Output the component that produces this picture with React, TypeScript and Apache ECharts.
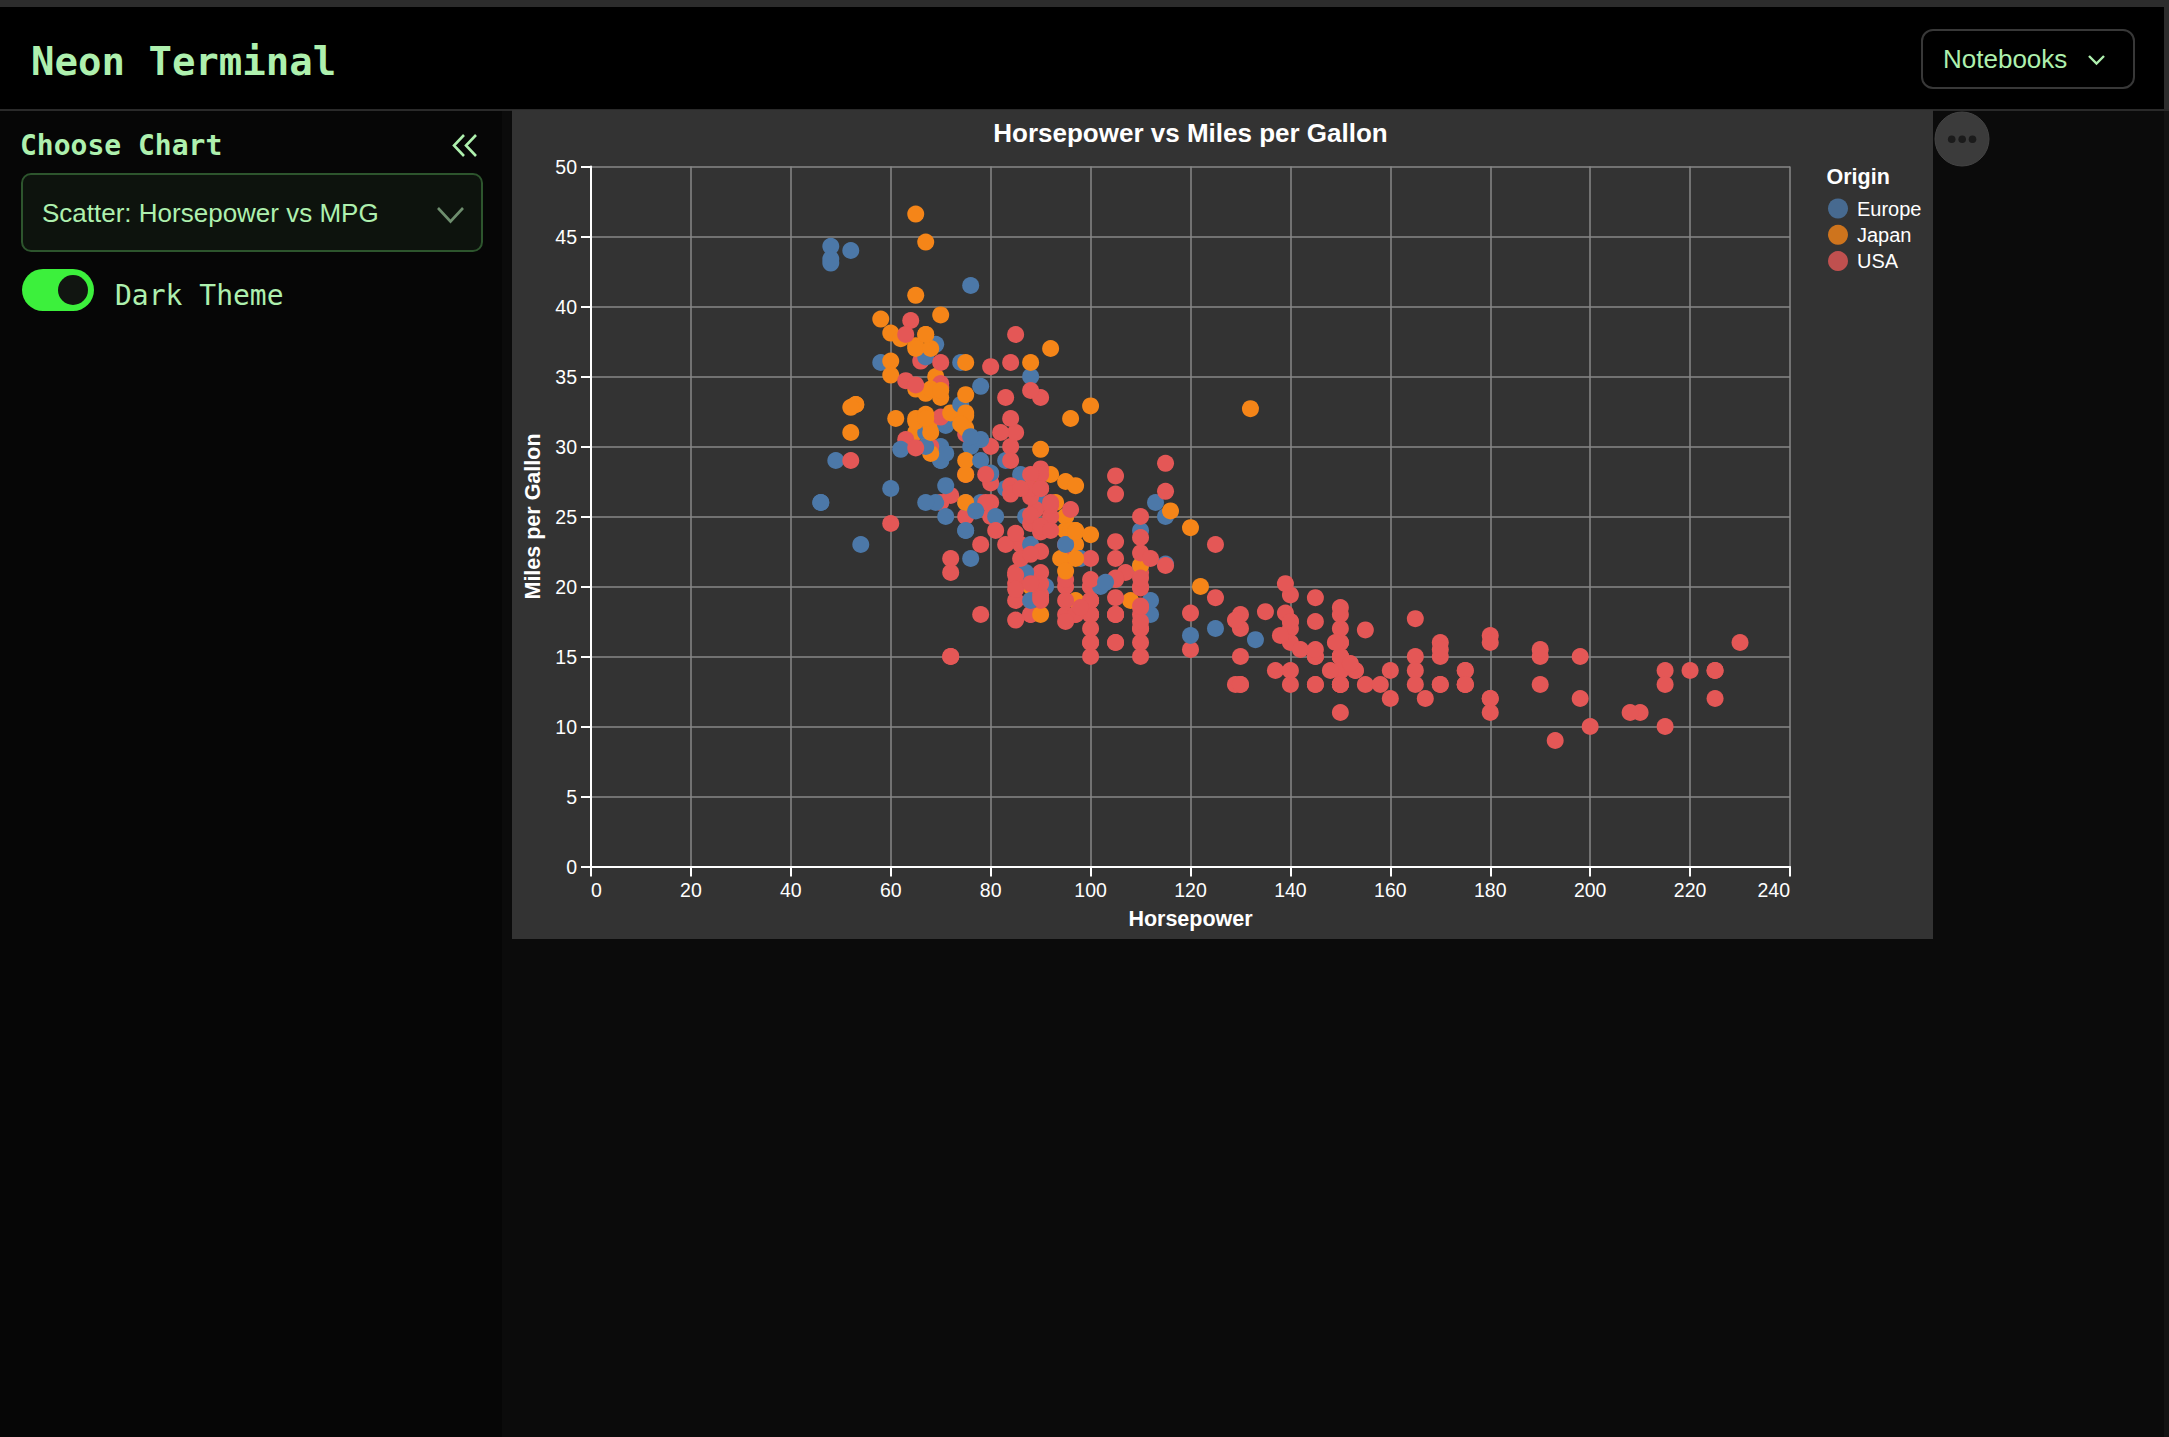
import React, { useEffect, useRef } from "react";
import * as echarts from "echarts";

// ---- Data (auto-mpg / cars dataset, rows with missing horsepower omitted) ----
const horsepower: number[] = [
  130,165,150,150,140,198,220,215,225,190,170,160,150,225,95,95,97,85,88,46,87,90,95,113,90,215,200,210,193,
  88,90,95,100,105,100,88,100,165,175,153,150,180,170,175,110,72,100,88,86,90,70,76,65,69,60,70,
  95,80,54,90,86,165,175,150,153,150,208,155,160,190,97,150,130,140,150,112,76,87,69,86,92,97,80,88,
  175,150,145,137,150,198,150,158,150,215,225,175,105,100,100,88,95,46,150,167,170,180,100,88,72,94,90,85,107,90,145,230,49,75,91,112,150,110,122,180,
  95,100,100,67,80,65,75,100,110,105,140,150,150,140,150,83,67,78,52,61,75,75,75,97,93,67,
  95,105,72,72,170,145,150,148,110,105,110,95,110,110,129,75,83,100,78,96,71,97,97,70,90,95,88,98,115,53,
  86,81,92,79,83,140,150,120,152,100,105,81,90,52,60,70,53,100,78,110,95,71,70,75,72,102,150,88,108,120,180,145,130,150,
  68,80,58,96,70,145,110,145,130,110,105,100,98,180,170,190,149,78,88,75,89,63,83,67,78,97,110,110,
  48,66,52,70,60,110,140,139,105,95,85,88,100,90,105,85,110,120,145,165,139,140,68,95,97,75,95,105,85,97,103,125,115,133,71,68,
  115,85,88,90,110,130,129,138,135,155,142,125,150,71,65,80,80,77,125,71,90,70,70,65,69,90,115,115,90,
  76,60,70,65,90,88,90,90,78,90,75,92,75,65,105,65,48,48,67,67,67,67,62,132,100,88,72,
  84,84,92,110,84,58,64,60,67,65,62,68,63,65,65,74,75,75,100,74,80,76,116,120,110,105,88,85,
  88,88,88,85,84,90,92,74,68,68,63,70,88,75,70,67,67,67,110,85,92,112,96,84,90,86,52,84,79,82,
];

const milesPerGallon: number[] = [
  18,15,18,16,17,15,14,14,14,15,15,14,15,14,24,22,18,21,27,26,25,24,25,26,21,10,10,11,9,
  27,28,25,19,16,17,19,18,14,14,14,14,12,13,13,18,22,19,18,23,28,30,30,31,35,27,26,
  24,25,23,20,21,13,14,15,14,17,11,13,12,13,19,15,13,13,14,18,22,21,26,22,28,23,28,27,
  13,14,13,14,15,12,13,13,14,13,12,13,18,16,18,18,23,26,11,12,13,12,18,20,21,22,18,19,21,26,15,16,29,24,20,19,15,24,20,11,
  20,19,15,31,26,32,25,16,16,18,16,13,14,14,14,29,26,26,31,32,28,24,26,24,26,31,
  19,18,15,15,16,15,16,14,17,16,15,18,21,20,13,29,23,20,23,24,25,24,18,29,19,23,23,22,25,33,
  28,25,25,26,27,17.5,16,15.5,14.5,22,22,24,22.5,29,24.5,29,33,20,18,18.5,17.5,29.5,32,28,26.5,20,13,19,19,16.5,16.5,13,13,13,
  31.5,30,36,25.5,33.5,17.5,17,15.5,15,17.5,20.5,19,18.5,16,15.5,15.5,16,29,24.5,26,25.5,30.5,33.5,30,30.5,22,21.5,21.5,
  43.1,36.1,32.8,39.4,36.1,19.9,19.4,20.2,19.2,20.5,20.2,25.1,20.5,19.4,20.6,20.8,18.6,18.1,19.2,17.7,18.1,17.5,30,27.5,27.2,30.9,21.1,23.2,23.8,23.9,20.3,17,21.6,16.2,31.5,29.5,
  21.5,19.8,22.3,20.2,20.6,17,17.6,16.5,18.2,16.9,15.5,19.2,18.5,31.9,34.1,35.7,27.4,25.4,23,27.2,23.9,34.2,34.5,31.8,37.3,28.4,28.8,26.8,33.5,
  41.5,38.1,32.1,37.2,28,26.4,24.3,19.1,34.3,29.8,31.3,37,32.2,46.6,27.9,40.8,44.3,43.4,36.4,30,44.6,33.8,29.8,32.7,23.7,35,32.4,
  27.2,26.6,25.8,23.5,30,39.1,39,35.1,32.3,37,37.7,34.1,34.7,34.4,29.9,33,33.7,32.4,32.9,31.6,28.1,30.7,25.4,24.2,22.4,26.6,20.2,17.6,
  28,27,34,31,29,27,24,36,37,31,38,36,36,36,34,38,32,38,25,38,26,22,32,36,27,27,44,32,28,31,
];

// E = Europe, J = Japan, U = USA
const origin: string[] = [
  "U","U","U","U","U","U","U","U","U","U","U","U","U","U","J","U","U","U","J","E","E","E","E","E","U","U","U","U","U",
  "J","U","J","U","U","U","U","U","U","U","U","U","U","U","U","U","U","U","U","U","E","E","E","J","J","E","U",
  "J","U","E","U","U","U","U","U","U","U","U","U","U","U","J","U","U","U","U","E","E","E","E","U","J","J","U","J",
  "U","U","U","U","U","U","U","U","U","U","U","U","U","U","U","U","U","E","U","U","U","U","U","J","U","J","J","U","U","E","U","U","E","E","E","E","U","E","J","U",
  "U","U","U","J","U","J","U","U","U","U","U","U","U","U","U","E","E","E","J","J","U","E","E","J","J","E",
  "U","U","U","U","U","U","U","U","U","U","U","U","U","U","U","J","U","U","U","J","E","J","U","E","U","E","E","E","E","J",
  "E","E","U","U","E","U","U","U","U","U","U","U","U","U","U","E","J","U","U","U","U","E","J","J","U","E","U","E","J","E","U","U","U","U",
  "J","U","E","U","J","U","U","U","U","U","U","U","U","U","U","U","U","E","U","J","U","U","U","J","E","J","E","J",
  "E","U","J","J","J","U","U","U","U","U","U","U","U","U","U","U","U","U","U","U","U","U","U","J","J","U","J","U","U","J","E","E","E","E","E","J",
  "U","U","U","U","U","U","U","U","U","U","U","U","U","E","J","U","U","E","U","E","U","U","U","J","E","U","U","U","U",
  "E","J","U","J","U","U","U","U","E","J","J","J","J","J","U","J","E","E","E","E","J","J","E","J","J","E","J",
  "U","U","U","U","U","J","U","J","J","J","J","J","U","U","U","E","J","J","J","J","E","E","J","J","U","U","U","U",
  "U","U","U","U","U","U","U","E","J","J","U","U","J","J","J","J","J","J","U","U","U","U","J","U","U","U","E","U","U","U",
];

const originCodes = ["E", "J", "U"];
const originNames = ["Europe", "Japan", "USA"];
const originColors = ["#4c78a8", "#f58518", "#e45756"];

const chartTitle = "Horsepower vs Miles per Gallon";
const xTitle = "Horsepower";
const yTitle = "Miles per Gallon";
const legendTitle = "Origin";
const xMin = 0, xMax = 240, xStep = 20;
const yMin = 0, yMax = 50, yStep = 5;

const SANS = "'Liberation Sans', Arial, Helvetica, sans-serif";
const MONO = "'DejaVu Sans Mono', 'Liberation Mono', monospace";
const GREEN_TEXT = "#aef0ae";

function ScatterChart() {
  const ref = useRef<HTMLDivElement>(null);
  useEffect(() => {
    if (!ref.current) return;
    const chart = echarts.init(ref.current, null, { renderer: "svg" });
    const colorOf = (code: string) => originColors[originCodes.indexOf(code)];
    const points = horsepower.map((h, i) => ({
      value: [h, milesPerGallon[i]],
      itemStyle: { color: colorOf(origin[i]) },
    }));
    const legendSeries = originNames.map((name, i) => ({
      type: "scatter",
      name,
      data: [] as number[][],
      symbol: "circle",
      itemStyle: { color: originColors[i] },
    }));
    chart.setOption({
      animation: false,
      backgroundColor: "#333333",
      textStyle: { fontFamily: SANS },
      grid: { left: 79, top: 56.5, width: 1199, height: 700, containLabel: false },
      graphic: [
        {
          type: "text",
          x: 678.5,
          y: 9.5,
          style: {
            text: chartTitle,
            fill: "#ffffff",
            fontFamily: SANS,
            fontSize: 26,
            fontWeight: "bold",
            align: "center",
            verticalAlign: "top",
          },
        },
        {
          type: "text",
          x: 1314.5,
          y: 55.5,
          style: {
            text: legendTitle,
            fill: "#ffffff",
            fontFamily: SANS,
            fontSize: 21.5,
            fontWeight: "bold",
            align: "left",
            verticalAlign: "top",
          },
        },
      ],
      legend: {
        data: originNames,
        orient: "vertical",
        left: 1316,
        top: 88.5,
        padding: 0,
        itemWidth: 28,
        itemHeight: 20,
        itemGap: 6.3,
        icon: "circle",
        selectedMode: false,
        textStyle: { color: "#ffffff", fontSize: 20, fontFamily: SANS },
      },
      xAxis: {
        type: "value",
        min: xMin,
        max: xMax,
        interval: xStep,
        name: xTitle,
        nameLocation: "middle",
        nameGap: 41.5,
        nameTextStyle: { color: "#ffffff", fontWeight: "bold", fontSize: 21.5, fontFamily: SANS },
        axisLine: { show: true, onZero: false, lineStyle: { color: "#ffffff", width: 2 } },
        axisTick: { show: true, length: 10, lineStyle: { color: "#ffffff", width: 2 } },
        axisLabel: {
          color: "#ffffff",
          fontSize: 19.5,
          margin: 13,
          fontFamily: SANS,
          alignMinLabel: "left",
          alignMaxLabel: "right",
        },
        splitLine: { show: true, lineStyle: { color: "#888888", width: 1.5 } },
      },
      yAxis: {
        type: "value",
        min: yMin,
        max: yMax,
        interval: yStep,
        name: yTitle,
        nameLocation: "middle",
        nameGap: 42,
        nameTextStyle: { color: "#ffffff", fontWeight: "bold", fontSize: 21.5, fontFamily: SANS },
        axisLine: { show: true, onZero: false, lineStyle: { color: "#ffffff", width: 2 } },
        axisTick: { show: true, length: 10, lineStyle: { color: "#ffffff", width: 2 } },
        axisLabel: { color: "#ffffff", fontSize: 19.5, margin: 14, fontFamily: SANS },
        splitLine: { show: true, lineStyle: { color: "#888888", width: 1.5 } },
      },
      series: [
        ...legendSeries,
        {
          type: "scatter",
          name: "cars",
          data: points,
          symbol: "circle",
          symbolSize: 17,
          itemStyle: { opacity: 1 },
          silent: true,
          z: 3,
        },
      ],
    });
    return () => chart.dispose();
  }, []);
  return (
    <div
      ref={ref}
      style={{ position: "absolute", left: 512, top: 110, width: 1421, height: 829 }}
    />
  );
}

export default function App() {
  useEffect(() => {
    document.body.style.margin = "0";
    document.body.style.background = "#0b0b0b";
  }, []);
  return (
    <div
      style={{
        position: "fixed",
        left: 0,
        top: 0,
        width: 2169,
        height: 1437,
        background: "#0b0b0b",
        overflow: "hidden",
      }}
    >
      {/* top strip */}
      <div style={{ position: "absolute", left: 0, top: 0, width: 2169, height: 7, background: "#2c2c2c" }} />
      {/* header */}
      <div style={{ position: "absolute", left: 0, top: 7, width: 2164, height: 102, background: "#000000" }} />
      <div style={{ position: "absolute", left: 0, top: 109, width: 2169, height: 2, background: "#2a2a2a" }} />
      <div style={{ position: "absolute", left: 2164, top: 7, width: 5, height: 102, background: "#2c2c2c" }} />
      {/* sidebar */}
      <div style={{ position: "absolute", left: 0, top: 111, width: 502, height: 1326, background: "#060606" }} />
      <div style={{ position: "absolute", left: 2164, top: 111, width: 5, height: 1326, background: "#131313" }} />

      <div
        style={{
          position: "absolute",
          left: 31,
          top: 42,
          fontFamily: MONO,
          fontWeight: "bold",
          fontSize: 39,
          lineHeight: "39px",
          color: GREEN_TEXT,
          whiteSpace: "nowrap",
        }}
      >
        Neon Terminal
      </div>

      {/* Notebooks button */}
      <div
        style={{
          position: "absolute",
          left: 1921,
          top: 29,
          width: 214,
          height: 60,
          boxSizing: "border-box",
          border: "2px solid #383838",
          borderRadius: 12,
          background: "#000",
        }}
      />
      <div
        style={{
          position: "absolute",
          left: 1943,
          top: 46,
          fontFamily: SANS,
          fontSize: 26,
          lineHeight: "26px",
          color: GREEN_TEXT,
          whiteSpace: "nowrap",
        }}
      >
        Notebooks
      </div>

      {/* Sidebar content */}
      <div
        style={{
          position: "absolute",
          left: 20,
          top: 131.5,
          fontFamily: MONO,
          fontWeight: "bold",
          fontSize: 28,
          lineHeight: "28px",
          color: GREEN_TEXT,
          whiteSpace: "nowrap",
        }}
      >
        Choose Chart
      </div>
      <div
        style={{
          position: "absolute",
          left: 21,
          top: 173,
          width: 462,
          height: 79,
          boxSizing: "border-box",
          border: "2px solid #2d552d",
          borderRadius: 10,
          background: "#0d130d",
        }}
      />
      <div
        style={{
          position: "absolute",
          left: 42,
          top: 200,
          fontFamily: SANS,
          fontSize: 26,
          lineHeight: "26px",
          color: GREEN_TEXT,
          whiteSpace: "nowrap",
        }}
      >
        Scatter: Horsepower vs MPG
      </div>
      <div
        style={{
          position: "absolute",
          left: 115,
          top: 281.5,
          fontFamily: MONO,
          fontSize: 28,
          lineHeight: "28px",
          color: GREEN_TEXT,
          whiteSpace: "nowrap",
        }}
      >
        Dark Theme
      </div>

      <ScatterChart />

      {/* vector bits */}
      <svg
        width={2169}
        height={1437}
        style={{ position: "absolute", left: 0, top: 0, pointerEvents: "none" }}
      >
        {/* collapse icon */}
        <polyline points="464,135 454,145.5 464,156" fill="none" stroke={GREEN_TEXT} strokeWidth={2.6} />
        <polyline points="476,135 466,145.5 476,156" fill="none" stroke={GREEN_TEXT} strokeWidth={2.6} />
        {/* dropdown chevron */}
        <polyline points="438,208 450.5,221.5 463,208" fill="none" stroke="#6e8e6e" strokeWidth={2.6} />
        {/* notebooks chevron */}
        <polyline points="2089,56 2096.5,63.5 2104,56" fill="none" stroke={GREEN_TEXT} strokeWidth={2.4} />
        {/* toggle */}
        <rect x={22} y={269} width={72} height={42} rx={21} ry={21} fill="#3cf03c" />
        <circle cx={73} cy={290} r={15} fill="#111511" />
        {/* more button */}
        <circle cx={1962} cy={139} r={27} fill="#3b3b3b" stroke="#444" strokeWidth={1} />
        <circle cx={1951.7} cy={139.3} r={3.8} fill="#1b1b1b" />
        <circle cx={1962.2} cy={139.3} r={3.8} fill="#1b1b1b" />
        <circle cx={1972.5} cy={139.3} r={3.8} fill="#1b1b1b" />
      </svg>
    </div>
  );
}
